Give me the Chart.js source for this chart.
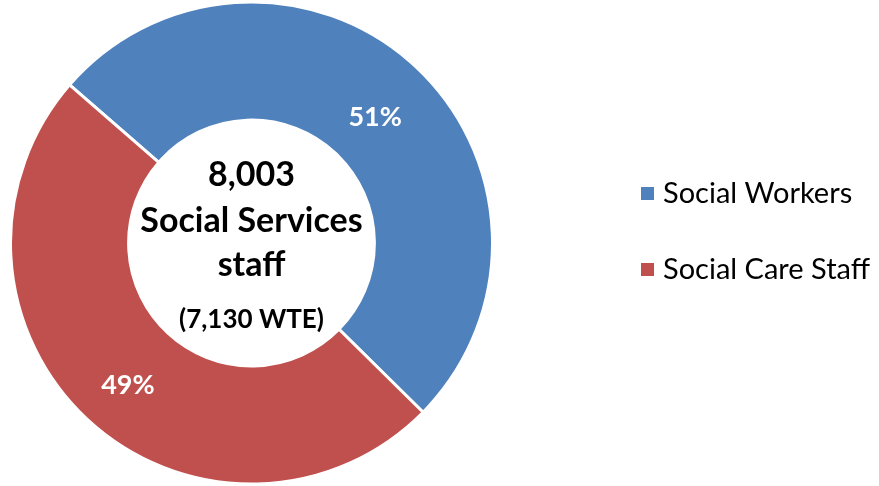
<!DOCTYPE html>
<html>
<head>
<meta charset="utf-8">
<script src="https://cdn.jsdelivr.net/npm/chart.js@4.4.1/dist/chart.umd.min.js"></script>
<style>
  html, body { margin: 0; padding: 0; background: #fff; }
  #wrap { width: 879px; height: 486px; }
</style>
</head>
<body>
<div id="wrap"><canvas id="staffChart"></canvas></div>
<script>
const labels = ['Social Workers', 'Social Care Staff'];
const shares = [51, 49];
const colors = ['#4F81BD', '#C0504D'];
const centerLines = ['8,003', 'Social Services', 'staff', '(7,130 WTE)'];

const FONT = 'Lato, "Open Sans", sans-serif';

const overlayPlugin = {
  id: 'overlay',
  afterDatasetsDraw(chart) {
    const ctx = chart.ctx;
    const meta = chart.getDatasetMeta(0);
    const arc = meta.data[0];
    const cx = arc.x, cy = arc.y;

    ctx.save();
    ctx.textAlign = 'center';
    ctx.textBaseline = 'alphabetic';

    // slice labels
    ctx.fillStyle = '#fff';
    ctx.font = 'bold 27px ' + FONT;
    meta.data.forEach((el, i) => {
      const p = el.tooltipPosition();
      ctx.fillText(shares[i] + '%', p.x, p.y + 17);
    });

    // centre text
    ctx.fillStyle = '#000';
    ctx.font = 'bold 34px ' + FONT;
    ctx.fillText(centerLines[0], cx, cy - 57);
    ctx.fillText(centerLines[1], cx, cy - 11);
    ctx.fillText(centerLines[2], cx, cy + 33);
    ctx.font = 'bold 26px ' + FONT;
    ctx.fillText(centerLines[3], cx, cy + 85);

    // legend
    ctx.textAlign = 'left';
    ctx.font = '29px ' + FONT;
    labels.forEach((lab, i) => {
      const y = 193 + i * 76;
      ctx.fillStyle = colors[i];
      ctx.fillRect(641, y - 6, 13, 13);
      ctx.fillStyle = '#000';
      ctx.fillText(lab, 663, y + 10);
    });
    ctx.restore();
  }
};

new Chart(document.getElementById('staffChart'), {
  type: 'doughnut',
  data: {
    labels: labels,
    datasets: [{
      data: shares,
      backgroundColor: colors,
      borderColor: '#fff',
      borderWidth: 3
    }]
  },
  options: {
    responsive: true,
    maintainAspectRatio: false,
    animation: false,
    rotation: -49,
    cutout: '51%',
    layout: { padding: { left: 9, right: 385, top: 0, bottom: 0 } },
    plugins: {
      legend: { display: false },
      tooltip: { enabled: false }
    }
  },
  plugins: [overlayPlugin]
});
</script>
</body>
</html>
